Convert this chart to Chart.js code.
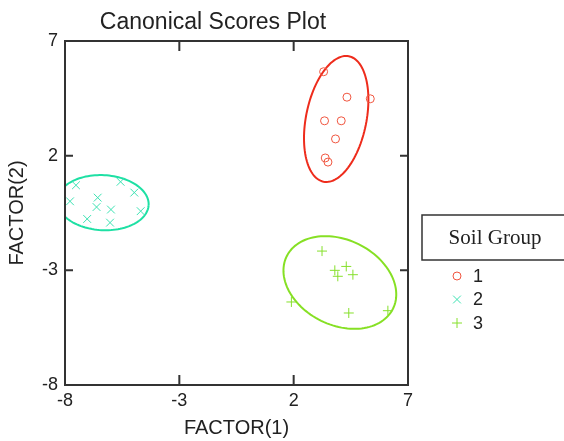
<!DOCTYPE html>
<html>
<head>
<meta charset="utf-8">
<script src="https://cdn.jsdelivr.net/npm/chart.js@4/dist/chart.umd.min.js"></script>
<style>
  html, body { margin: 0; padding: 0; background: #fff; }
  #wrap { width: 564px; height: 441px; }
</style>
</head>
<body>
<div id="wrap"><canvas id="scoresChart" width="564" height="441"></canvas></div>
<script>
// data
const groupLabels = ['1', '2', '3'];
const group1X = [3.31, 4.33, 5.35, 3.35, 4.08, 3.83, 3.38, 3.50];
const group1Y = [5.66, 4.55, 4.48, 3.52, 3.52, 2.73, 1.90, 1.72];
const group2X = [-7.52, -5.57, -4.97, -7.78, -6.57, -6.62, -5.99, -4.69, -7.03, -6.03];
const group2Y = [0.71, 0.86, 0.39, 0.01, 0.17, -0.24, -0.35, -0.42, -0.76, -0.92];
const group3X = [3.24, 3.80, 3.93, 4.30, 4.59, 1.90, 4.41, 6.12];
const group3Y = [-2.16, -3.00, -3.26, -2.83, -3.19, -4.38, -4.86, -4.76];

// confidence ellipses (data units, angle in degrees)
const ellipseCenterX = [3.86, -6.34, 4.02];
const ellipseCenterY = [3.60, -0.05, -3.53];
const ellipseSemiMajor = [2.79, 2.0, 2.59];
const ellipseSemiMinor = [1.32, 1.2, 1.86];
const ellipseAngle = [78.5, -3, -26];

const axisTicks = [-8, -3, 2, 7];

const lineColors = ['#ee2c1c', '#1ee0a4', '#86e024'];
const markerColors = ['#f0553f', '#3ce2b2', '#86e02c'];
const markerStyles = ['circle', 'crossRot', 'cross'];
const markerSizes = [4, 5.5, 5];

const toPoints = (xs, ys) => xs.map((x, i) => ({ x: x, y: ys[i] }));
const groupPoints = [toPoints(group1X, group1Y), toPoints(group2X, group2Y), toPoints(group3X, group3Y)];

const ctx = document.getElementById('scoresChart').getContext('2d');

// ellipses, frame with inward ticks, title and legend
const decorations = {
    id: 'decorations',
    beforeDatasetsDraw(chart) {
        const c = chart.ctx, xs = chart.scales.x, ys = chart.scales.y, a = chart.chartArea;
        c.save();
        c.beginPath();
        c.rect(a.left, a.top, a.right - a.left, a.bottom - a.top);
        c.clip();
        c.lineWidth = 2;
        for (let g = 0; g < groupLabels.length; g++) {
            const th = ellipseAngle[g] * Math.PI / 180;
            c.strokeStyle = lineColors[g];
            c.beginPath();
            for (let k = 0; k <= 120; k++) {
                const t = k / 120 * 2 * Math.PI;
                const u = ellipseSemiMajor[g] * Math.cos(t), v = ellipseSemiMinor[g] * Math.sin(t);
                const px = xs.getPixelForValue(ellipseCenterX[g] + u * Math.cos(th) - v * Math.sin(th));
                const py = ys.getPixelForValue(ellipseCenterY[g] + u * Math.sin(th) + v * Math.cos(th));
                if (k === 0) c.moveTo(px, py); else c.lineTo(px, py);
            }
            c.stroke();
        }
        c.restore();
    },
    afterDraw(chart) {
        const c = chart.ctx, xs = chart.scales.x, ys = chart.scales.y, a = chart.chartArea;
        c.save();
        c.strokeStyle = '#333';
        c.lineWidth = 2;
        c.strokeRect(a.left, a.top, a.right - a.left, a.bottom - a.top);
        c.beginPath();
        axisTicks.slice(1, -1).forEach(v => {
            const px = xs.getPixelForValue(v);
            c.moveTo(px, a.bottom); c.lineTo(px, a.bottom - 10);
            c.moveTo(px, a.top); c.lineTo(px, a.top + 10);
            const py = ys.getPixelForValue(v);
            c.moveTo(a.left, py); c.lineTo(a.left + 8, py);
            c.moveTo(a.right, py); c.lineTo(a.right - 8, py);
        });
        c.stroke();

        // title
        c.fillStyle = '#222';
        c.font = '23px "Liberation Sans", Arial, sans-serif';
        c.textAlign = 'center';
        c.textBaseline = 'middle';
        c.fillText('Canonical Scores Plot', 213, 23);

        // legend
        c.lineWidth = 1.5;
        c.strokeRect(422, 215, 160, 45);
        c.font = '21px "Liberation Serif", "Times New Roman", serif';
        c.fillText('Soil Group', 495, 238);
        c.font = '18px "Liberation Sans", Arial, sans-serif';
        c.textAlign = 'left';
        groupLabels.forEach((lab, g) => {
            const y = 276 + g * 23.5;
            c.strokeStyle = markerColors[g];
            c.fillStyle = 'rgba(0,0,0,0)';
            c.lineWidth = 1;
            Chart.helpers.drawPoint(c, { pointStyle: markerStyles[g], radius: markerSizes[g], rotation: 0, borderWidth: 1 }, 457, y);
            c.fillStyle = '#222';
            c.fillText(lab, 473, y + 1);
        });
        c.restore();
    }
};

new Chart(ctx, {
    type: 'scatter',
    data: {
        datasets: groupLabels.map((lab, g) => ({
            label: lab,
            data: groupPoints[g],
            pointStyle: markerStyles[g],
            pointRadius: markerSizes[g],
            pointBorderWidth: 1,
            borderColor: markerColors[g],
            backgroundColor: 'rgba(0,0,0,0)'
        }))
    },
    options: {
        responsive: false,
        animation: false,
        layout: { padding: { top: 41, right: 156, left: 0, bottom: 0 } },
        plugins: { legend: { display: false }, tooltip: { enabled: false } },
        scales: {
            x: {
                min: -8, max: 7,
                afterFit: s => { s.height = 56; },
                afterBuildTicks: s => { s.ticks = axisTicks.map(v => ({ value: v })); },
                grid: { display: false, drawTicks: false },
                border: { display: false },
                ticks: { color: '#222', font: { size: 18, family: '"Liberation Sans", Arial' }, padding: 5, maxRotation: 0 },
                title: { display: true, text: 'FACTOR(1)', color: '#222', font: { size: 20, family: '"Liberation Sans", Arial' }, padding: { top: 0, bottom: 1 } }
            },
            y: {
                min: -8, max: 7,
                afterFit: s => { s.width = 65; },
                afterBuildTicks: s => { s.ticks = axisTicks.map(v => ({ value: v })); },
                grid: { display: false, drawTicks: false },
                border: { display: false },
                ticks: { color: '#222', font: { size: 18, family: '"Liberation Sans", Arial' }, padding: 7 },
                title: { display: true, text: 'FACTOR(2)', color: '#222', font: { size: 20, family: '"Liberation Sans", Arial' }, padding: { top: 5, bottom: 0 } }
            }
        }
    },
    plugins: [decorations]
});
</script>
</body>
</html>
